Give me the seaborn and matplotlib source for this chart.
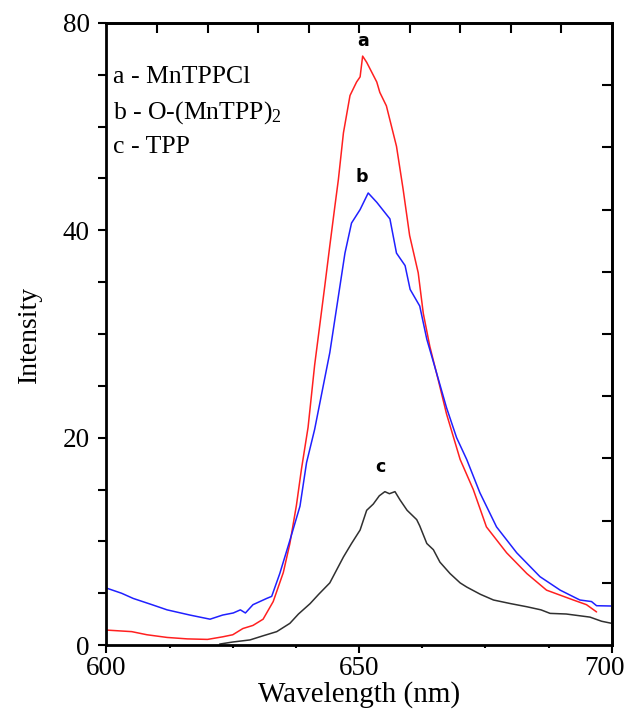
import numpy as np
import pandas as pd
import matplotlib
matplotlib.use("Agg")
import matplotlib.pyplot as plt
import seaborn as sns
from matplotlib.ticker import MultipleLocator, FixedLocator, NullFormatter

# data (wavelength nm, intensity)
wl_a = [600, 605, 608, 612, 616, 620, 623, 625, 627, 629, 631, 633, 635, 636.3,
        637.6, 638.6, 639.9, 641.2, 642.2, 643.2, 644.2, 645.2, 645.9, 646.9, 648.2,
        649.5, 650.2, 650.7, 651.5, 653.5, 654.1, 655.4, 657.4, 658.7, 660.0, 661.7,
        662.7, 664.0, 665.7, 667.3, 670.0, 672.6, 675.2, 679.2, 683.2, 687.1, 692.4,
        695, 697]
int_a = [1.45, 1.3, 1.0, 0.74, 0.6, 0.55, 0.8, 1.0, 1.6, 1.9, 2.5, 4.2, 7.0, 9.8,
         13.5, 17.0, 21.0, 27.0, 30.8, 34.6, 38.5, 42.3, 44.9, 49.4, 53.0,
         54.3, 54.8, 56.8, 56.2, 54.3, 53.3, 52.0, 48.1, 44.0, 39.5, 35.9,
         32.0, 28.8, 25.5, 22.3, 17.9, 15.0, 11.4, 8.9, 6.9, 5.3, 4.35,
         3.9, 3.2]

wl_b = [600, 603, 605.3, 609, 612, 616.5, 618.5, 620.5, 623, 625.1, 626.5, 627.5,
        629, 631.7, 632.7, 634.3, 636.3, 638.3, 639.6, 641.2, 642.9, 644.2, 645.2,
        646.2, 647.2, 648.5, 650.2, 651.8, 653.5, 656.1, 657.4, 659.1, 660.1, 662.0,
        663.4, 665.3, 667.3, 669.3, 671.3, 673.9, 677.2, 681.2, 685.8, 689.8, 693.7,
        696, 697, 700]
int_b = [5.5, 5.0, 4.5, 3.9, 3.4, 2.9, 2.7, 2.5, 2.9, 3.1, 3.4, 3.1,
         3.9, 4.5, 4.7, 6.9, 10.1, 13.4, 17.6, 20.8, 25.0, 28.2, 31.4,
         34.6, 37.8, 40.7, 42.0, 43.6, 42.7, 41.1, 37.8, 36.6, 34.3, 32.7,
         29.5, 26.3, 22.9, 20.0, 17.9, 14.7, 11.4, 8.9, 6.6, 5.3, 4.35,
         4.2, 3.8, 3.77]

wl_c = [622.4, 625, 628.4, 631, 633.7, 636.3, 638, 640.3, 642, 644.2, 646.9, 648.5,
        650.2, 651.5, 652.8, 654, 655.1, 656, 657.1, 658.1, 659.5, 661.4, 662, 663.4,
        664.7, 666, 668, 670, 671.3, 674, 676.6, 680, 683.2, 686, 687.8, 691, 695.7,
        698, 700]
int_c = [0.1, 0.3, 0.5, 0.9, 1.3, 2.1, 3.0, 4.0, 4.9, 6.0, 8.5, 9.8,
         11.1, 13.0, 13.6, 14.4, 14.8, 14.6, 14.8, 14.0, 13.0, 12.1, 11.5, 9.8,
         9.2, 8.0, 6.9, 6.0, 5.6, 4.9, 4.35, 4.0, 3.7, 3.4, 3.06, 3.0, 2.7,
         2.3, 2.1]

legend_lines = ["a - MnTPPCl", "b - O-(MnTPP)$_2$", "c - TPP"]
y_ticks = [0, 20, 40, 60]
y_tick_labels = ["0", "20", "40", "80"]
x_ticks = [600, 650, 700]
x_tick_labels = ["600", "650", ""]   # 700 is written separately, nudged inside the edge

sns.set_style("ticks")
plt.rcParams["font.family"] = ["Liberation Serif", "DejaVu Serif"]
plt.rcParams["mathtext.default"] = "regular"
plt.rcParams["text.color"] = "black"
plt.rcParams["axes.labelcolor"] = "black"
plt.rcParams["xtick.color"] = "black"
plt.rcParams["ytick.color"] = "black"

fig = plt.figure(figsize=(6.3, 7.16), dpi=100)
ax = fig.add_axes([0.169, 0.099, 0.802, 0.869])

sns.lineplot(x=wl_a, y=int_a, ax=ax, color="#ff2020", linewidth=1.1)
sns.lineplot(x=wl_b, y=int_b, ax=ax, color="#2020ff", linewidth=1.1)
sns.lineplot(x=wl_c, y=int_c, ax=ax, color="#303030", linewidth=1.1)

ax.set_xlim(600, 700)
ax.set_ylim(0, 60)

for s in ax.spines.values():
    s.set_linewidth(2.0)
    s.set_color("black")

ax.set_xticks(x_ticks)
ax.set_xticklabels(x_tick_labels)
ax.xaxis.set_minor_locator(FixedLocator([612.5, 625, 637.5, 662.5, 675, 687.5]))
ax.set_yticks(y_ticks)
ax.set_yticklabels(y_tick_labels)
ax.yaxis.set_minor_locator(MultipleLocator(5))
ax.tick_params(axis="both", which="major", labelsize=19.5, width=1.5, length=6,
               direction="out", color="black")
ax.tick_params(axis="x", which="major", pad=2)
ax.tick_params(axis="y", which="major", pad=6)
ax.tick_params(axis="y", which="minor", width=1.5, length=6, direction="out")
ax.tick_params(axis="x", which="minor", width=1.5, length=2.5, direction="out")
ax.tick_params(top=False, right=False)

ax.annotate(str(x_ticks[-1]), xy=(x_ticks[-1], 0), xycoords="data",
            xytext=(-5, -8), textcoords="offset points",
            ha="center", va="top", fontsize=19.5, annotation_clip=False)

# inward ticks along top and right, spaced differently
top = ax.secondary_xaxis("top")
top.set_xticks(np.arange(610, 700, 10))
top.xaxis.set_major_formatter(NullFormatter())
top.tick_params(direction="in", length=7, width=1.5)
top.spines["top"].set_linewidth(2.0)

right = ax.secondary_yaxis("right")
right.set_yticks(np.arange(6, 60, 6))
right.yaxis.set_major_formatter(NullFormatter())
right.tick_params(direction="in", length=7, width=1.5)
right.spines["right"].set_linewidth(2.0)

ax.set_xlabel("Wavelength (nm)", fontsize=21, labelpad=0)
ax.set_ylabel("Intensity", fontsize=20, labelpad=15)

# compound key in the upper left
for i, line in enumerate(legend_lines):
    ax.text(601.3, 54.8 - i * 3.4, line, fontsize=18.5, va="center", ha="left")

# curve letters
for lbl, xx, yy in [("a", 650.8, 58.3), ("b", 650.6, 45.1), ("c", 654.3, 17.2)]:
    ax.text(xx, yy, lbl, fontsize=12.5, fontweight="heavy", ha="center", va="center",
            family=["DejaVu Sans"])

fig.savefig("out.png", dpi=100)
